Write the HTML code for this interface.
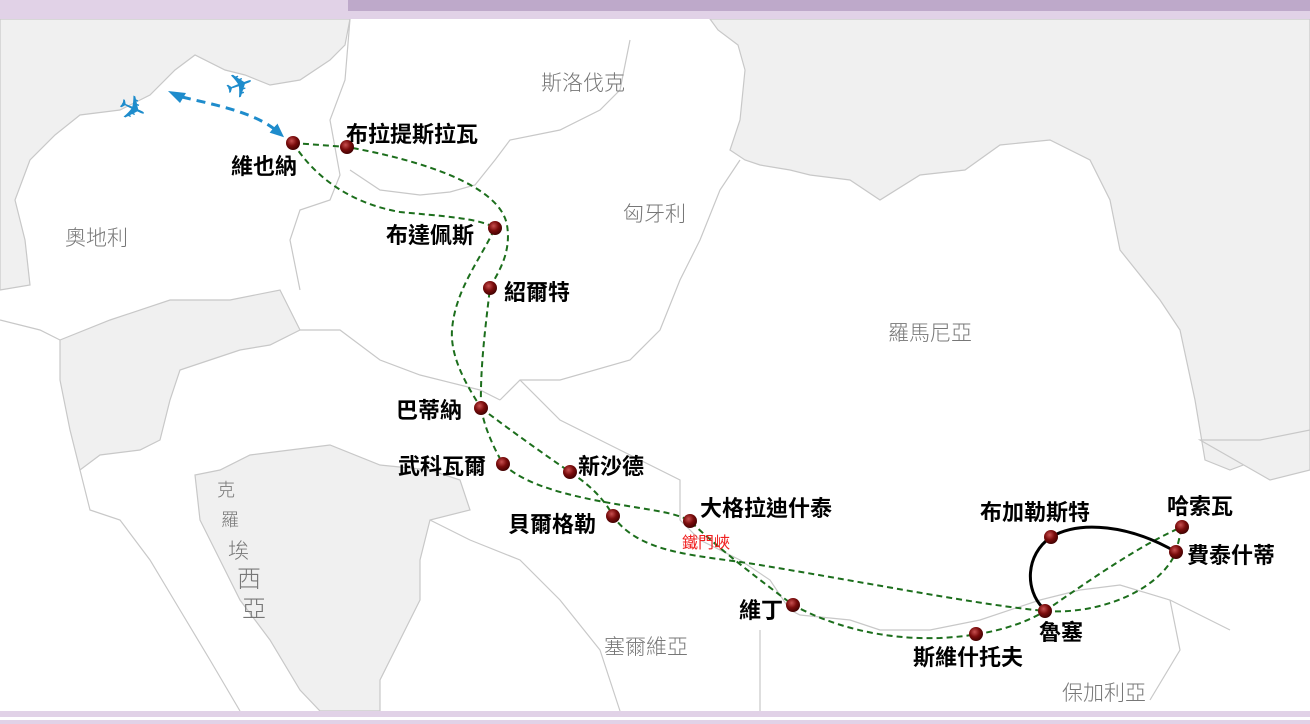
<!DOCTYPE html>
<html><head><meta charset="utf-8"><style>
html,body{margin:0;padding:0;background:#fff}
svg{display:block}
.l{font-family:"Liberation Sans","Noto Sans CJK TC",sans-serif;font-size:22px;font-weight:bold;fill:#000}
.c{font-family:"Liberation Sans","Noto Sans CJK TC",sans-serif;font-size:21px;fill:#777;font-weight:300}
.g{fill:none;stroke:#1c6e1c;stroke-width:2;stroke-dasharray:6 4}
.b{fill:#f0f0f0;stroke:#c8c8c8;stroke-width:1.2}
.w{fill:none;stroke:#c8c8c8;stroke-width:1.2}
</style></head><body>
<svg width="1310" height="724" viewBox="0 0 1310 724" xmlns="http://www.w3.org/2000/svg">
<defs>
<radialGradient id="dot" cx="0.4" cy="0.35" r="0.7"><stop offset="0" stop-color="#c85050"/><stop offset="0.5" stop-color="#7a0c0c"/><stop offset="1" stop-color="#3a0000"/></radialGradient>
<marker id="ah" markerWidth="14" markerHeight="12" refX="6" refY="6" orient="auto" markerUnits="userSpaceOnUse"><path d="M0,0 L14,6 L0,12 z" fill="#1e8ccc"/></marker>
</defs>
<rect width="1310" height="724" fill="#fff"/>
<path class="b" d="M0,19 L350,19 L345,45 L330,60 L300,80 L270,85 L245,75 L225,70 L195,55 L175,70 L150,95 L120,110 L80,115 L55,135 L30,160 L15,200 L25,240 L30,285 L0,290 Z"/>
<path class="b" d="M710,19 L1310,19 L1310,440 L1270,455 L1230,470 L1205,460 L1195,400 L1180,330 L1160,300 L1120,250 L1110,200 L1090,160 L1050,140 L1000,145 L965,170 L920,175 L880,200 L850,180 L810,175 L790,170 L760,165 L745,160 L730,150 L740,120 L745,70 L738,45 L718,30 Z"/>
<path class="b" d="M1200,440 L1260,440 L1310,430 L1310,470 L1270,480 Z"/>
<path class="b" d="M60,340 L110,320 L170,300 L230,300 L280,290 L300,330 L270,345 L240,350 L210,360 L180,370 L170,400 L160,440 L140,450 L100,455 L80,470 L70,430 L60,380 Z"/>
<path class="b" d="M195,475 L220,470 L250,455 L290,450 L330,445 L380,465 L430,470 L460,480 L470,510 L430,520 L420,560 L420,600 L400,640 L380,680 L380,711 L320,711 L300,690 L270,640 L240,600 L220,560 L200,520 Z"/>
<path class="w" d="M740,160 L720,190 L700,240 L680,280 L660,330 L630,360 L560,380 L520,380 L500,400 M500,400 L480,390 L420,375 L380,360 L340,330 L300,330"/>
<path class="w" d="M350,19 L345,80 L330,120 L340,175 L330,200 L300,210 L290,240 L300,290 M350,170 L380,190 L420,195 L450,192 L475,185 L495,160 L510,140 L560,130 L600,110 L620,90 L630,40"/>
<path class="w" d="M0,320 L40,330 L60,340 M520,380 L560,420 L600,440 L640,460 L680,480 L680,520 L700,540 L740,560 L770,580 L790,610 L800,615 L850,620 L880,630 L930,630 L980,620 L1040,600 L1080,590 L1120,585 L1170,600 L1230,630 M760,630 L760,711 M1170,600 L1180,650 L1150,700 M430,520 L470,540 L520,560 L560,600 L600,650 L620,711"/>
<path class="w" d="M80,470 L90,510 L120,520 L150,560 L180,610 L210,660 L240,711"/>
<rect x="0" y="0" width="1310" height="19" fill="#e1d2e7"/>
<rect x="348" y="0" width="962" height="11" fill="#bea9ca"/>
<rect x="0" y="711" width="1310" height="6" fill="#e1d2e7"/>
<rect x="0" y="720" width="1310" height="4" fill="#e1d2e7"/>
<text class="c" x="541" y="90">斯洛伐克</text>
<text class="c" x="623" y="221">匈牙利</text>
<text class="c" x="65" y="245">奧地利</text>
<text class="c" x="888" y="340">羅馬尼亞</text>
<text class="c" x="604" y="654">塞爾維亞</text>
<text class="c" x="1062" y="700">保加利亞</text>
<text class="c" x="217" y="496" style="font-size:18px">克</text>
<text class="c" x="221" y="526" style="font-size:18px">羅</text>
<text class="c" x="228" y="558" style="font-size:21px">埃</text>
<text class="c" x="237" y="587" style="font-size:24px">西</text>
<text class="c" x="242" y="617" style="font-size:24px">亞</text>
<path class="g" d="M293,143 L347,147 C420,160 500,185 507,225 C512,255 496,275 490,288 C485,330 480,370 481,408"/>
<path class="g" d="M293,143 C320,185 360,205 400,212 C440,216 480,218 495,228 C480,260 455,290 452,330 C450,360 470,390 481,408"/>
<path class="g" d="M481,408 C485,430 495,450 503,464 C530,490 590,500 640,508 C665,512 680,515 690,521 C720,550 760,580 793,605 C830,625 880,640 940,638 C1000,635 1030,620 1045,611"/>
<path class="g" d="M481,408 C510,430 545,455 570,472 C590,485 605,500 613,516 C640,555 700,555 760,565 C880,585 980,605 1045,611"/>
<path class="g" d="M1045,611 C1090,580 1140,545 1182,527"/>
<path class="g" d="M1045,611 C1100,615 1160,590 1176,552 L1182,527"/>
<path d="M1043,608 C1025,590 1025,555 1051,537 C1080,520 1130,525 1176,552" fill="none" stroke="#000" stroke-width="3"/>
<path d="M182,97 C215,105 255,112 278,132" fill="none" stroke="#1e8ccc" stroke-width="3" stroke-dasharray="9 6" marker-end="url(#ah)"/>
<path d="M168,91 L186,93 L180,103 z" fill="#1e8ccc"/>
<text x="118" y="122" style="font-size:34px;fill:#1e8ccc;font-family:'DejaVu Sans',sans-serif" transform="rotate(25 136 110)">✈</text>
<text x="225" y="96" style="font-size:34px;fill:#1e8ccc;font-family:'DejaVu Sans',sans-serif" transform="rotate(-20 243 84)">✈</text>
<g fill="url(#dot)">
<circle cx="293" cy="143" r="7"/><circle cx="347" cy="147" r="7"/><circle cx="495" cy="228" r="7"/><circle cx="490" cy="288" r="7"/>
<circle cx="481" cy="408" r="7"/><circle cx="503" cy="464" r="7"/><circle cx="570" cy="472" r="7"/><circle cx="613" cy="516" r="7"/>
<circle cx="690" cy="521" r="7"/><circle cx="793" cy="605" r="7"/><circle cx="976" cy="634" r="7"/><circle cx="1045" cy="611" r="7"/>
<circle cx="1051" cy="537" r="7"/><circle cx="1182" cy="527" r="7"/><circle cx="1176" cy="552" r="7"/>
</g>
<text class="l" x="346" y="142">布拉提斯拉瓦</text>
<text class="l" x="231" y="174">維也納</text>
<text class="l" x="386" y="243">布達佩斯</text>
<text class="l" x="504" y="300">紹爾特</text>
<text class="l" x="396" y="418">巴蒂納</text>
<text class="l" x="398" y="474">武科瓦爾</text>
<text class="l" x="578" y="474">新沙德</text>
<text class="l" x="508" y="532">貝爾格勒</text>
<text class="l" x="700" y="516">大格拉迪什泰</text>
<text x="682" y="548" style="font-family:'Liberation Sans','Noto Sans CJK TC',sans-serif;font-size:16px;fill:#f02020">鐵門峽</text>
<text class="l" x="739" y="618">維丁</text>
<text class="l" x="913" y="665">斯維什托夫</text>
<text class="l" x="1039" y="640">魯塞</text>
<text class="l" x="980" y="520">布加勒斯特</text>
<text class="l" x="1167" y="514">哈索瓦</text>
<text class="l" x="1187" y="563">費泰什蒂</text>
</svg>
</body></html>
